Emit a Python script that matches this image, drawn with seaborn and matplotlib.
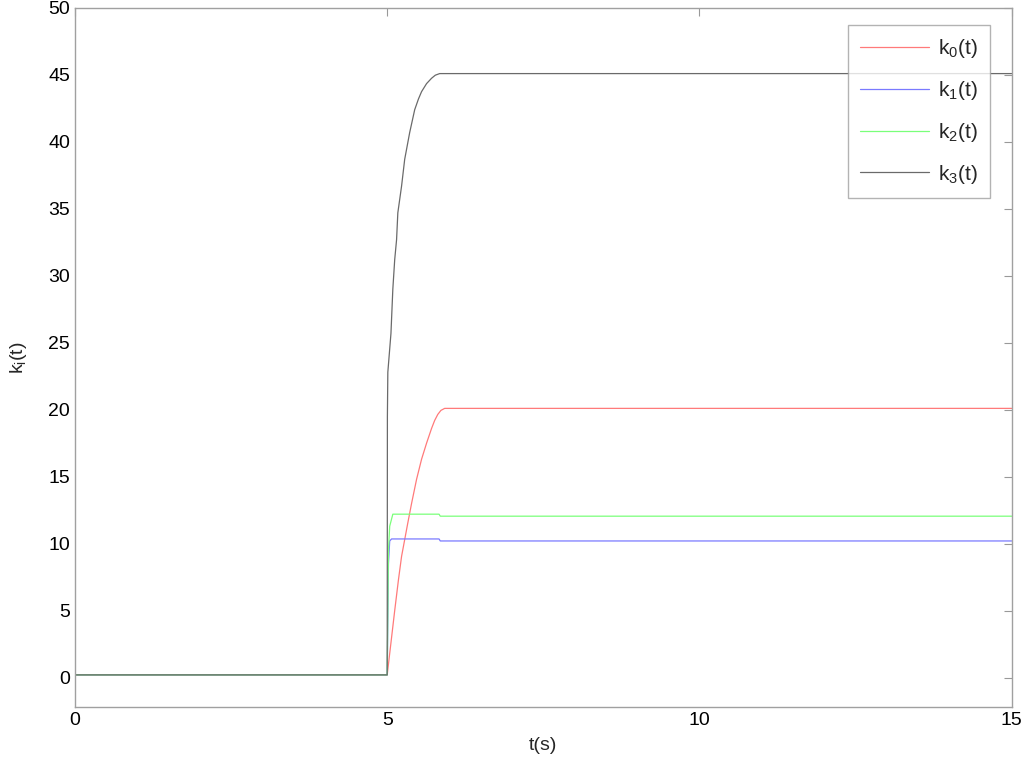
import numpy as np
import pandas as pd
import matplotlib
matplotlib.use('Agg')
import matplotlib.pyplot as plt
import seaborn as sns

# --- data ---
t_k0 = [0, 5.0, 5.06, 5.12, 5.18, 5.23, 5.28, 5.33, 5.39, 5.47, 5.55, 5.63, 5.71, 5.76, 5.81, 5.86, 5.92, 15]
k0 = [0.2, 0.2, 2.6, 5.0, 7.3, 9.05, 10.3, 11.55, 13.0, 14.8, 16.3, 17.5, 18.6, 19.2, 19.65, 19.95, 20.1, 20.1]

t_k1 = [0, 5.0, 5.02, 5.04, 5.07, 5.83, 5.85, 15]
k1 = [0.2, 0.2, 8.5, 10.2, 10.35, 10.35, 10.2, 10.2]

t_k2 = [0, 5.0, 5.02, 5.04, 5.09, 5.83, 5.85, 15]
k2 = [0.2, 0.2, 9.5, 11.3, 12.2, 12.2, 12.05, 12.05]

t_k3 = [0, 5.0, 5.003, 5.01, 5.06, 5.09, 5.12, 5.15, 5.17, 5.23, 5.28, 5.36, 5.44, 5.50,
        5.55, 5.63, 5.71, 5.77, 5.84, 15]
k3 = [0.2, 0.2, 19.5, 22.8, 25.7, 29.0, 31.2, 32.7, 34.7, 36.7, 38.7, 40.7, 42.4, 43.2,
      43.75, 44.35, 44.75, 44.98, 45.1, 45.1]

labels = [r'k$_0$(t)', r'k$_1$(t)', r'k$_2$(t)', r'k$_3$(t)']
colors = ['#ff7a7a', '#7a7aff', '#7aff7a', '#6a6a6a']

frames = []
for lab, tt, kk in zip(labels, [t_k0, t_k1, t_k2, t_k3], [k0, k1, k2, k3]):
    frames.append(pd.DataFrame({'t': tt, 'k': kk, 'series': lab}))
df = pd.concat(frames, ignore_index=True)

sns.set_style('white')
plt.rcParams['font.family'] = ['Liberation Sans', 'DejaVu Sans']
plt.rcParams['mathtext.fontset'] = 'custom'
plt.rcParams['mathtext.rm'] = 'Liberation Sans'
plt.rcParams['mathtext.it'] = 'Liberation Sans'

fig = plt.figure(figsize=(10.24, 7.66), dpi=100)
ax = fig.add_axes([0.0732, 0.077, 0.9148, 0.9126])

sns.lineplot(data=df, x='t', y='k', hue='series', palette=dict(zip(labels, colors)),
             estimator=None, sort=False, linewidth=0.9, ax=ax)

ax.set_xlim(0, 15)
ax.set_ylim(-2.2, 50)
ax.set_xticks([0, 5, 10, 15])
ax.set_yticks(range(0, 51, 5))
ax.tick_params(direction='in', length=6, width=0.8, colors='#999999',
               labelcolor='black', labelsize=14, top=True, right=True)
for s in ax.spines.values():
    s.set_color('#a0a0a0')
    s.set_linewidth(1.0)

ax.set_xlabel('t(s)', fontsize=14, labelpad=6)
ax.set_ylabel(r'k$_i$(t)', fontsize=14, labelpad=14)

leg = ax.legend(loc='upper right', bbox_to_anchor=(0.9765, 0.9757), borderaxespad=0,
                fontsize=15, frameon=True, fancybox=False, handlelength=3.3,
                handletextpad=0.4, labelspacing=0.9, borderpad=0.6)
leg.get_frame().set_edgecolor('#a0a0a0')
leg.get_frame().set_linewidth(1.0)

fig.savefig('out.png', dpi=100)
